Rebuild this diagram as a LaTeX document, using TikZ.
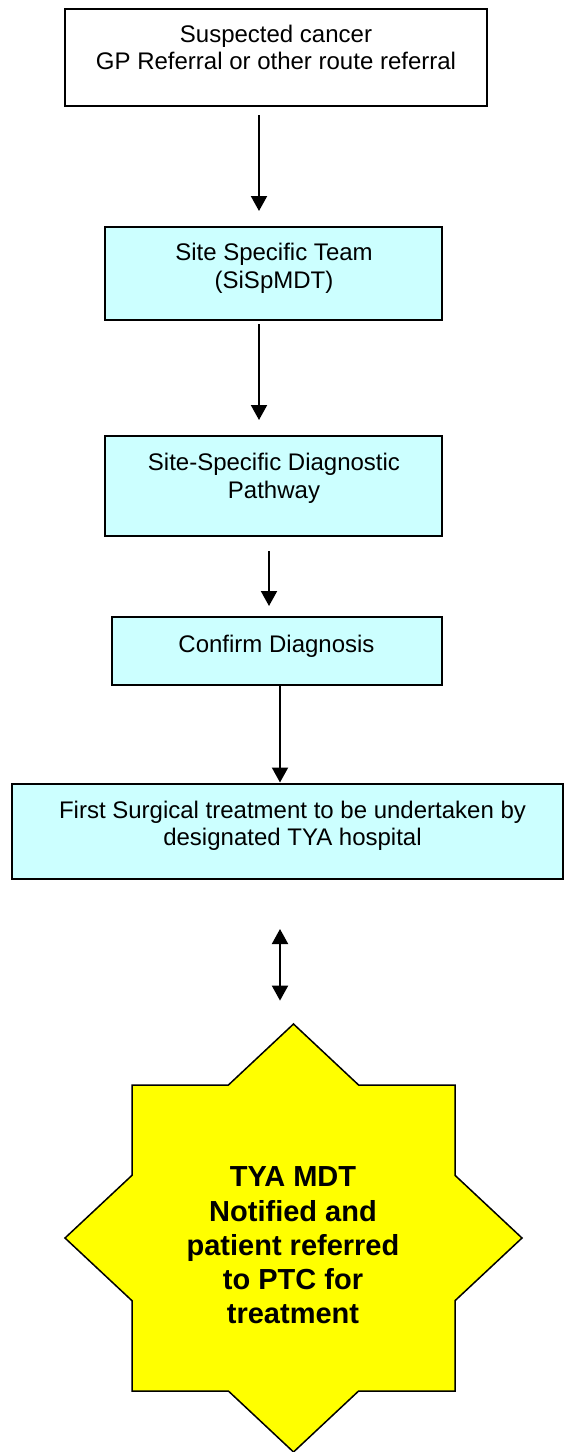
\documentclass[tikz,border=0pt]{standalone}
\usepackage{fontspec}
\setmainfont{Liberation Sans}
\usetikzlibrary{arrows.meta}

\definecolor{boxcyan}{HTML}{CCFFFF}
\definecolor{staryellow}{HTML}{FFFF00}

\begin{document}
\begin{tikzpicture}[x=0.5pt,y=-0.5pt,
  boxnode/.style={draw=black, line width=0.75pt, fill=boxcyan, inner sep=0pt, outer sep=0pt},
  boxtext/.style={anchor=north, inner sep=0pt, align=center,
                  font=\fontsize{12pt}{13.8pt}\selectfont},
  startext/.style={anchor=north, inner sep=0pt, align=center,
                   font=\bfseries\fontsize{14.5pt}{17.1pt}\selectfont},
  flow/.style={line width=1pt, -{Triangle[width=8pt,length=7.5pt]}},
  twoway/.style={line width=1pt, {Triangle[width=8pt,length=7.5pt]}-{Triangle[width=8pt,length=7.5pt]}}
]
\useasboundingbox (0,0) rectangle (564,1452);

% boxes of the pathway
\node[boxnode, fill=white, minimum width=211pt, minimum height=48.5pt] (b1) at (276,57.5) {};
\node[boxnode, minimum width=168.5pt, minimum height=46.5pt] (b2) at (273.5,273.5) {};
\node[boxnode, minimum width=168.5pt, minimum height=50pt] (b3) at (273.5,486) {};
\node[boxnode, minimum width=165pt, minimum height=34pt] (b4) at (277,651) {};
\node[boxnode, minimum width=275.5pt, minimum height=47.5pt] (b5) at (287.5,831.5) {};

% texts, set at the top of each box
\node[boxtext] (t1) at (276,24.5) {Suspected cancer\\GP Referral or other route referral};
\node[boxtext] (t2) at (274,243) {Site Specific Team\\(SiSpMDT)};
\node[boxtext] (t3) at (274,453) {Site-Specific Diagnostic\\Pathway};
\node[boxtext] (t4) at (276.5,635) {Confirm Diagnosis};
\node[boxtext] (t5) at (292.5,800.5) {First Surgical treatment to be undertaken by\\designated TYA hospital};

% eight-pointed star: union of a square and a diamond
\node[inner sep=0pt, minimum width=228.5pt, minimum height=214pt] (star) at (293.5,1238) {};
\begin{scope}[shift={(star.center)}]
  \draw[line width=0.75pt, fill=staryellow, line join=miter]
    (0,-214) -- (65.1,-153) -- (161.5,-153) -- (161.5,-62.7) -- (228.5,0)
    -- (161.5,62.7) -- (161.5,153) -- (65.1,153) -- (0,214)
    -- (-65.1,153) -- (-161.5,153) -- (-161.5,62.7) -- (-228.5,0)
    -- (-161.5,-62.7) -- (-161.5,-153) -- (-65.1,-153) -- cycle;
\end{scope}
\node[startext] (t6) at (293,1166.5) {TYA MDT\\Notified and\\patient referred\\to PTC for\\treatment};

% connectors
\coordinate (xa) at (259,0);
\coordinate (xb) at (269,0);
\coordinate (xc) at (280,0);
\draw[flow, shorten <=4.5pt, shorten >=8pt] (b1.south -| xa) -- (b2.north -| xa);
\draw[flow, shorten <=2pt, shorten >=8pt] (b2.south -| xa) -- (b3.north -| xa);
\draw[flow, shorten <=7.5pt, shorten >=5.5pt] (b3.south -| xb) -- (b4.north -| xb);
\draw[flow, shorten >=0.75pt] (b4.south -| xc) -- (b5.north -| xc);
\draw[twoway, shorten <=25pt, shorten >=11.5pt] (b5.south -| xc) -- (star.north -| xc);
\end{tikzpicture}
\end{document}
